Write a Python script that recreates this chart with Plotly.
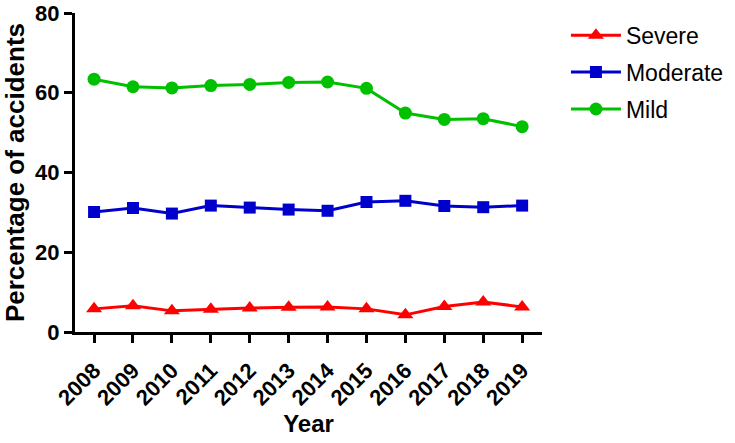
import plotly.graph_objects as go

years = [2008, 2009, 2010, 2011, 2012, 2013, 2014, 2015, 2016, 2017, 2018, 2019]
severe = [5.8, 6.6, 5.3, 5.7, 6.0, 6.2, 6.3, 5.8, 4.3, 6.4, 7.5, 6.3]
moderate = [30.1, 31.1, 29.7, 31.7, 31.2, 30.7, 30.4, 32.6, 32.9, 31.6, 31.3, 31.7]
mild = [63.4, 61.5, 61.2, 61.8, 62.1, 62.6, 62.7, 61.1, 54.9, 53.3, 53.5, 51.5]

FONT = "Liberation Sans, Arial, sans-serif"

fig = go.Figure()
fig.add_trace(go.Scatter(x=years, y=severe, name="Severe", mode="lines+markers", legendgroup="a",
                         line=dict(color="#FF0000", width=3),
                         marker=dict(symbol="triangle-up", size=14, color="#FF0000")))
fig.add_trace(go.Scatter(x=years, y=moderate, name="Moderate", mode="lines+markers", legendgroup="b",
                         line=dict(color="#0000CC", width=3),
                         marker=dict(symbol="square", size=12, color="#0000CC")))
fig.add_trace(go.Scatter(x=years, y=mild, name="Mild", mode="lines+markers", legendgroup="c",
                         line=dict(color="#00C000", width=3),
                         marker=dict(symbol="circle", size=13, color="#00C000")))

fig.update_layout(
    width=735, height=443,
    margin=dict(l=75, r=193, t=13, b=111),
    plot_bgcolor="white", paper_bgcolor="white",
    font=dict(family=FONT, color="black"),
    legend=dict(xref="container", yref="container", x=0.770, y=0.969,
                xanchor="left", yanchor="top",
                font=dict(size=23, color="black"), tracegroupgap=4, itemwidth=50,
                traceorder="grouped", bgcolor="rgba(0,0,0,0)"),
    xaxis=dict(range=[2007.51, 2019.51], tickmode="array", tickvals=years,
               ticktext=[str(y) for y in years], tickangle=-45, automargin=False,
               ticklabelstandoff=6,
               showgrid=False, zeroline=False, showline=True, linecolor="black", linewidth=3,
               ticks="outside", ticklen=8, tickwidth=3, tickcolor="black",
               tickfont=dict(size=22, family=FONT, weight="bold"),
               title=dict(text="<b>Year</b>", font=dict(size=24), standoff=4)),
    yaxis=dict(range=[0, 80], tickvals=[0, 20, 40, 60, 80], automargin=False,
               ticklabeloverflow="allow",
               showgrid=False, zeroline=False, showline=True, linecolor="black", linewidth=3,
               ticks="outside", ticklen=8, tickwidth=3, tickcolor="black",
               tickfont=dict(size=22, weight="bold"),
               title=dict(text="<b>Percentage of accidents</b>", font=dict(size=26), standoff=4)),
)

fig.write_html("out.html", config={"displayModeBar": False},
               post_script="document.body.style.margin='0';")
